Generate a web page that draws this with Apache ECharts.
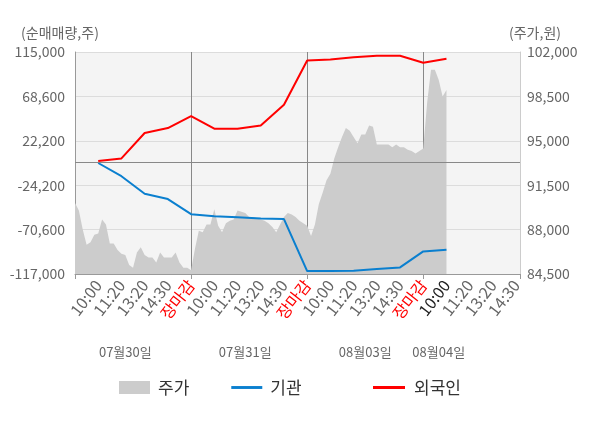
<!DOCTYPE html>
<html>
<head>
<meta charset="utf-8">
<script src="https://cdn.jsdelivr.net/npm/echarts@6/dist/echarts.min.js"></script>
<style>
  html, body { margin: 0; padding: 0; background: #fff; }
  #main { width: 600px; height: 428px; }
</style>
</head>
<body>
<div id="main"></div>
<script>
// 하루를 5구간으로 나눈 틱 라벨
const slotLabels = ['10:00', '11:20', '13:20', '14:30', '장마감']
const days = ['07월30일', '07월31일', '08월03일', '08월04일']
const stepsPerSlot = 6 // 한 구간당 주가 점 개수
const totalSteps = 115

// 주가 (원) - 6칸이 한 구간
const price = [
  90100, 89500, 88000, 86800, 87000, 87600, 87700, 88800, 88400, 86900,
  86900, 86400, 86100, 86000, 85200, 85000, 86200, 86600, 86000, 85800,
  85800, 85400, 86200, 85800, 85800, 85800, 86200, 85400, 85000, 85000,
  84800,
  86500, 87900, 87800, 88400, 88400, 89600, 88300, 87800, 88500, 88700,
  88800, 89500, 89400, 89300, 89000, 89000, 88900, 88800, 88700, 88500,
  88200, 87800, 88400, 89000, 89300, 89200, 89000, 88700, 88500, 88300,
  87500, 88400, 90000, 90900, 91900, 92400, 93600, 94500, 95300, 96000,
  95800, 95300, 94800, 95500, 95500, 96200, 96100, 94700, 94700, 94700,
  94700, 94500, 94700, 94500, 94500, 94300, 94200, 94000, 94200, 94400,
  98000, 100600, 100600, 99800, 98500, 99000
]

// 누적 순매매량 (주) - 첫날 10:00부터 구간마다
const inst = [-1000, -14800, -33100, -38700, -54500, -56600, -57700, -59000, -59600,
  -113900, -113900, -113600, -111800, -110100, -93400, -91600]
const foreign = [1000, 3800, 30300, 35500, 48100, 34800, 34800, 38200, 59900,
  106200, 107200, 109400, 111100, 111100, 103800, 107900]

const n = totalSteps + 1
const categories = []
for (let i = 0; i < n; i++) categories.push('t' + i)

function slotSeries(vals) {
  const arr = new Array(n).fill(null)
  vals.forEach((v, k) => { arr[(k + 1) * stepsPerSlot] = v })
  return arr
}

const dayLen = stepsPerSlot * 5
// 날짜 라벨 위치 (카테고리 인덱스)
const dateIdx = [13, 44, 75, 94]
const lineIcon = 'path://M0,0 L32,0 L32,3 L0,3 Z'

const font = '"Noto Sans CJK KR", "Noto Sans", sans-serif'
let myChart = echarts.init(document.getElementById('main'))
let option = {
  animation: false,
  textStyle: { fontFamily: font },
  grid: {
    left: 75, right: 80, top: 52, bottom: 154,
    show: true, backgroundColor: '#f4f4f4', borderWidth: 0
  },
  legend: [{
    left: 114, top: 374, itemWidth: 31, itemHeight: 13, itemGap: 42,
    textStyle: { fontSize: 17, color: '#333', padding: [0, 0, 0, 3] },
    data: [{ name: '주가', icon: 'rect' }, { name: '기관', icon: lineIcon }]
  }, {
    left: 368, top: 374, itemWidth: 32, itemHeight: 13,
    textStyle: { fontSize: 17, color: '#333', padding: [0, 0, 0, 4] },
    data: [{ name: '외국인', icon: lineIcon }]
  }],
  xAxis: [{
    type: 'category',
    data: categories,
    boundaryGap: false,
    axisLine: { onZero: false, lineStyle: { color: '#999' } },
    axisTick: {
      show: true, length: 5, lineStyle: { color: '#999' },
      interval: i => i % dayLen === 0 || i === n - 1
    },
    splitLine: {
      show: true, lineStyle: { color: '#888' },
      interval: i => i % dayLen === 0 && i > 0
    },
    axisLabel: {
      interval: i => i % stepsPerSlot === 0 && i > 0,
      rotate: 52, margin: 8, fontSize: 16, color: '#666',
      formatter: (v, i) => {
        const k = i / stepsPerSlot
        const lab = slotLabels[(k - 1) % 5]
        if (lab === '장마감') return '{r|' + lab + '}'
        if (k === foreign.length) return '{b|' + lab + '}'
        return lab
      },
      rich: {
        r: { color: '#ff0000', fontSize: 16 },
        b: { color: '#222', fontSize: 16 }
      }
    }
  }, {
    type: 'category',
    data: categories,
    boundaryGap: false,
    position: 'bottom',
    offset: 72,
    axisLine: { show: false },
    axisTick: { show: false },
    axisLabel: {
      interval: i => dateIdx.indexOf(i) >= 0,
      margin: 0, fontSize: 13, color: '#666',
      formatter: (v, i) => days[dateIdx.indexOf(i)]
    }
  }],
  yAxis: [{
    type: 'value',
    position: 'left',
    min: -117000, max: 115000, interval: 46400,
    name: '(순매매량,주)', nameGap: 12,
    nameTextStyle: { color: '#666', fontSize: 14, padding: [0, 30, 0, 0] },
    axisLine: { show: true, lineStyle: { color: '#999' } },
    axisTick: { show: false },
    axisLabel: { color: '#666', fontSize: 14, margin: 10, formatter: v => v.toLocaleString('en-US') },
    splitLine: { lineStyle: { color: '#dcdcdc' } }
  }, {
    type: 'value',
    position: 'right',
    min: 84500, max: 102000, interval: 3500,
    name: '(주가,원)', nameGap: 12,
    nameTextStyle: { color: '#666', fontSize: 14, padding: [0, 0, 0, 30] },
    axisLine: { show: true, lineStyle: { color: '#ccc' } },
    axisTick: { show: false },
    axisLabel: { color: '#666', fontSize: 14, margin: 7, formatter: v => v.toLocaleString('en-US') },
    splitLine: { show: false }
  }],
  series: [{
    name: '주가',
    type: 'line',
    yAxisIndex: 1,
    data: price,
    symbol: 'none',
    itemStyle: { color: '#cccccc' },
    lineStyle: { width: 0 },
    areaStyle: { color: '#cccccc', opacity: 1, origin: 'start' },
    z: 1
  }, {
    name: '기관',
    type: 'line',
    data: slotSeries(inst),
    connectNulls: true,
    symbol: 'none',
    itemStyle: { color: '#0a7fcf' },
    lineStyle: { width: 2, color: '#0a7fcf' },
    markLine: {
      silent: true, symbol: 'none', label: { show: false },
      lineStyle: { color: '#888', width: 1, type: 'solid' },
      data: [{ yAxis: 0 }]
    },
    z: 3
  }, {
    name: '외국인',
    type: 'line',
    data: slotSeries(foreign),
    connectNulls: true,
    symbol: 'none',
    itemStyle: { color: '#ff0000' },
    lineStyle: { width: 2, color: '#ff0000' },
    z: 4
  }]
}
myChart.setOption(option)
</script>
</body>
</html>
